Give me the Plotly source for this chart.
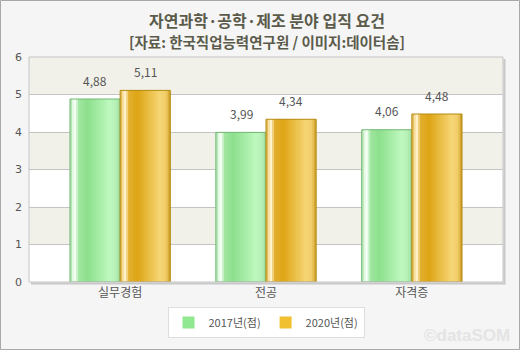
import plotly.graph_objects as go

categories = ["실무경험", "전공", "자격증"]
series_names = ["2017년(점)", "2020년(점)"]
values_2017 = [4.88, 3.99, 4.06]
values_2020 = [5.11, 4.34, 4.48]
y_ticks = [0, 1, 2, 3, 4, 5, 6]

W, H = 520, 350
ML, MR, MT, MB = 29, 17, 57, 68
PW, PH = W - ML - MR, H - MT - MB

TXT = "#555555"
TITLE_C = "#5b5b4b"
FONT = "Noto Sans CJK KR"


def hex2rgb(h):
    h = h.lstrip("#")
    return tuple(int(h[i:i + 2], 16) for i in (0, 2, 4))


def interp(stops, t):
    for (t0, c0), (t1, c1) in zip(stops, stops[1:]):
        if t0 <= t <= t1:
            f = 0 if t1 == t0 else (t - t0) / (t1 - t0)
            a, b = hex2rgb(c0), hex2rgb(c1)
            return "rgb(%d,%d,%d)" % tuple(round(a[k] + (b[k] - a[k]) * f) for k in range(3))
    return stops[-1][1]


green_stops = [(0.0, "#9ad89a"), (0.05, "#e0f8e0"), (0.1, "#f6fff6"), (0.18, "#a0e6a0"),
               (0.35, "#8ddf8d"), (0.8, "#bff8bf"), (0.92, "#b6f0b6"), (1.0, "#98d898")]
gold_stops = [(0.0, "#d8a830"), (0.05, "#f6dc98"), (0.1, "#fff2cc"), (0.18, "#e2ae2c"),
              (0.35, "#dea616"), (0.8, "#f6d676"), (0.92, "#f0cc68"), (1.0, "#c8981c")]

bw = 0.344
N = 25
fig = go.Figure()
specs = [(values_2017, -bw, green_stops, "#72b872"),
         (values_2020, 0.0, gold_stops, "#b48a10")]
for vals, base, stops, edge in specs:
    for i in range(N):
        t = (i + 0.5) / N
        wi = bw / N * (1.8 if i < N - 1 else 1.0)
        fig.add_trace(go.Bar(x=categories, y=vals, width=wi, offset=base + i * bw / N,
                             marker=dict(color=interp(stops, t), line=dict(width=0)),
                             showlegend=False, hoverinfo="skip"))
    fig.add_trace(go.Bar(x=categories, y=vals, width=bw, offset=base,
                         marker=dict(color="rgba(0,0,0,0)", line=dict(color=edge, width=1)),
                         showlegend=False, hoverinfo="skip"))

for name, legc in [(series_names[0], "#90e890"), (series_names[1], "#f0c030")]:
    fig.add_trace(go.Bar(x=categories, y=[None] * 3, name=name,
                         marker=dict(color=legc, line=dict(color=legc, width=0))))

# value labels
for vals, sh in [(values_2017, -25), (values_2020, 25)]:
    for c, v in zip(categories, vals):
        fig.add_annotation(x=c, y=v, xref="x", yref="y", text=("%.2f" % v).replace(".", ","),
                           showarrow=False, xshift=sh, yshift=19, yanchor="middle",
                           font=dict(family=FONT, size=12, color=TXT))

shapes = []
# bands
for k in range(6):
    shapes.append(dict(type="rect", xref="paper", yref="y", x0=0, x1=1, y0=k, y1=k + 1,
                       fillcolor="#f1f1e9" if k % 2 == 1 else "#ffffff", line=dict(width=0),
                       layer="below"))
# plot shadow
shapes.append(dict(type="line", xref="paper", yref="paper", x0=1 + 1.5 / PW, x1=1 + 1.5 / PW,
                   y0=-1.5 / PH, y1=1 - 2 / PH, line=dict(color="#c8c8c8", width=2)))
shapes.append(dict(type="line", xref="paper", yref="paper", x0=2 / PW, x1=1 + 2.5 / PW,
                   y0=-1.5 / PH, y1=-1.5 / PH, line=dict(color="#c8c8c8", width=2)))
shapes.append(dict(type="rect", xref="paper", yref="paper", x0=0, x1=1, y0=0, y1=1,
                   line=dict(color="#c4c4c4", width=1)))
# outer border
shapes.append(dict(type="rect", xref="paper", yref="paper",
                   x0=(-ML + 0.5) / PW, x1=1 + (MR - 0.5) / PW,
                   y0=-(MB - 0.5) / PH, y1=1 + (MT - 0.5) / PH,
                   line=dict(color="#a8a8a8", width=1)))

fig.add_annotation(xref="paper", yref="paper", x=(267 - ML) / PW, y=1 + (MT - 20) / PH,
                   text="<b>자연과학·공학·제조 분야 입직 요건</b>", showarrow=False,
                   font=dict(family=FONT, size=16, color=TITLE_C), yanchor="middle")
fig.add_annotation(xref="paper", yref="paper", x=(267 - ML) / PW, y=1 + (MT - 41) / PH,
                   text="<b>[자료: 한국직업능력연구원 / 이미지:데이터솜]</b>", showarrow=False,
                   font=dict(family=FONT, size=14.5, color=TITLE_C), yanchor="middle")
fig.add_annotation(xref="paper", yref="paper", x=(512 - ML) / PW, y=-(335 - MT - PH) / PH,
                   text="<b>©dataSOM</b>", showarrow=False, xanchor="right", yanchor="middle",
                   font=dict(family="Liberation Sans", size=17, color="#e4e4e4"))

fig.update_layout(
    width=W, height=H, margin=dict(l=ML, r=MR, t=MT, b=MB),
    paper_bgcolor="#f5f5f5", plot_bgcolor="#ffffff",
    barmode="overlay", shapes=shapes,
    xaxis=dict(range=[-0.625, 2.625], showgrid=False, zeroline=False, showline=False,
               ticks="", tickfont=dict(family=FONT, size=12, color=TXT), ticklabelstandoff=2),
    yaxis=dict(range=[0, 6], tickvals=y_ticks, showgrid=True, gridcolor="#c4c4c4", gridwidth=1,
               zeroline=False, showline=False, ticks="",
               tickfont=dict(family="DejaVu Sans", size=11, color=TXT), ticklabelstandoff=6),
    legend=dict(orientation="h", x=(266 - ML) / PW, xanchor="center", y=-(307 - MT - PH) / PH,
                yanchor="top", bgcolor="#ffffff", bordercolor="#dddddd", borderwidth=1,
                font=dict(family=FONT, size=11, color=TXT), itemwidth=30,
                tracegroupgap=0),
    showlegend=True,
)

fig.write_html("out.html")
